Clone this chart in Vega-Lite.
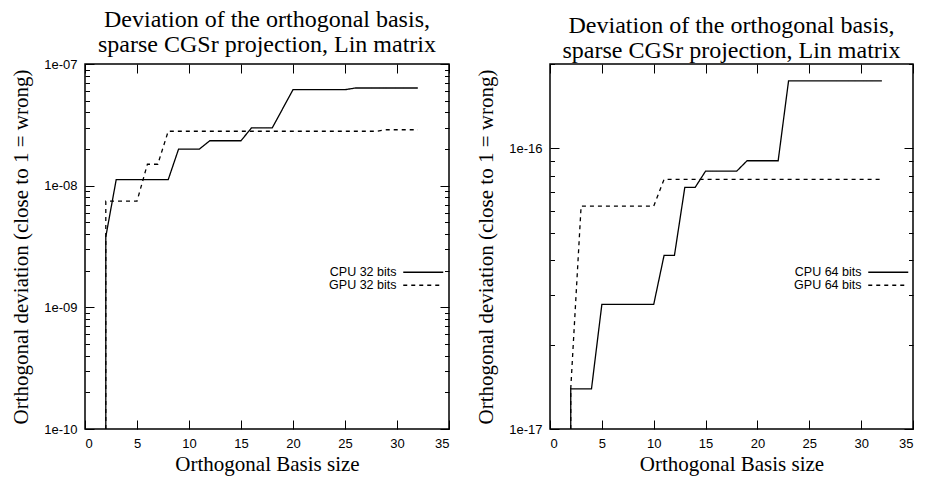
{
  "$schema": "https://vega.github.io/schema/vega-lite/v6.json",
  "background": "white",
  "padding": {"left": 10, "top": 7, "right": 5, "bottom": 3},
  "bounds": "flush",
  "spacing": 101,
  "resolve": {"scale": {"strokeDash": "independent"}, "legend": {"strokeDash": "independent"}},
  "config": {
    "view": {"stroke": "black", "strokeWidth": 1.5},
    "axis": {
      "domain": false,
      "grid": false,
      "tickColor": "black",
      "tickWidth": 1,
      "labelColor": "black",
      "labelFont": "Liberation Sans",
      "labelFontSize": 13,
      "titleFont": "Liberation Serif",
      "titleFontSize": 21,
      "titleFontWeight": "normal",
      "titleColor": "black"
    },
    "title": {"font": "Liberation Serif", "fontSize": 24, "fontWeight": "normal", "color": "black", "lineHeight": 25, "offset": 1},
    "legend": {
      "orient": "none",
      "legendX": 332,
      "legendY": 202,
      "title": null,
      "symbolType": "M-4,0H4",
      "symbolSize": 100,
      "symbolStrokeColor": "black",
      "symbolStrokeWidth": 1.3,
      "labelFont": "Liberation Sans",
      "labelFontSize": 12.5,
      "labelColor": "black",
      "labelAlign": "right",
      "labelOffset": -33,
      "rowPadding": 0,
      "padding": 0
    }
  },
  "hconcat": [
    {
      "width": 364,
      "height": 365,
      "title": {"text": ["Deviation of the orthogonal basis,", "sparse CGSr projection, Lin matrix"]},
      "data": {"values": [
        {"series": "CPU 32 bits", "i": 0, "n": 2, "dev": 1e-10},
        {"series": "CPU 32 bits", "i": 2, "n": 2, "dev": 3.8e-9},
        {"series": "CPU 32 bits", "i": 3, "n": 3, "dev": 1.12e-8},
        {"series": "CPU 32 bits", "i": 4, "n": 4, "dev": 1.12e-8},
        {"series": "CPU 32 bits", "i": 5, "n": 5, "dev": 1.12e-8},
        {"series": "CPU 32 bits", "i": 6, "n": 6, "dev": 1.12e-8},
        {"series": "CPU 32 bits", "i": 7, "n": 7, "dev": 1.12e-8},
        {"series": "CPU 32 bits", "i": 8, "n": 8, "dev": 1.12e-8},
        {"series": "CPU 32 bits", "i": 9, "n": 9, "dev": 2.0e-8},
        {"series": "CPU 32 bits", "i": 10, "n": 10, "dev": 2.0e-8},
        {"series": "CPU 32 bits", "i": 11, "n": 11, "dev": 2.0e-8},
        {"series": "CPU 32 bits", "i": 12, "n": 12, "dev": 2.34e-8},
        {"series": "CPU 32 bits", "i": 13, "n": 13, "dev": 2.34e-8},
        {"series": "CPU 32 bits", "i": 14, "n": 14, "dev": 2.34e-8},
        {"series": "CPU 32 bits", "i": 15, "n": 15, "dev": 2.34e-8},
        {"series": "CPU 32 bits", "i": 16, "n": 16, "dev": 2.98e-8},
        {"series": "CPU 32 bits", "i": 17, "n": 17, "dev": 2.98e-8},
        {"series": "CPU 32 bits", "i": 18, "n": 18, "dev": 2.98e-8},
        {"series": "CPU 32 bits", "i": 20, "n": 20, "dev": 6.15e-8},
        {"series": "CPU 32 bits", "i": 21, "n": 21, "dev": 6.15e-8},
        {"series": "CPU 32 bits", "i": 22, "n": 22, "dev": 6.15e-8},
        {"series": "CPU 32 bits", "i": 23, "n": 23, "dev": 6.15e-8},
        {"series": "CPU 32 bits", "i": 24, "n": 24, "dev": 6.15e-8},
        {"series": "CPU 32 bits", "i": 25, "n": 25, "dev": 6.15e-8},
        {"series": "CPU 32 bits", "i": 26, "n": 26, "dev": 6.35e-8},
        {"series": "CPU 32 bits", "i": 27, "n": 27, "dev": 6.35e-8},
        {"series": "CPU 32 bits", "i": 28, "n": 28, "dev": 6.35e-8},
        {"series": "CPU 32 bits", "i": 29, "n": 29, "dev": 6.35e-8},
        {"series": "CPU 32 bits", "i": 30, "n": 30, "dev": 6.35e-8},
        {"series": "CPU 32 bits", "i": 31, "n": 31, "dev": 6.35e-8},
        {"series": "CPU 32 bits", "i": 32, "n": 32, "dev": 6.35e-8},
        {"series": "GPU 32 bits", "i": 0, "n": 2, "dev": 1e-10},
        {"series": "GPU 32 bits", "i": 2, "n": 2, "dev": 7.45e-9},
        {"series": "GPU 32 bits", "i": 3, "n": 3, "dev": 7.45e-9},
        {"series": "GPU 32 bits", "i": 4, "n": 4, "dev": 7.45e-9},
        {"series": "GPU 32 bits", "i": 5, "n": 5, "dev": 7.45e-9},
        {"series": "GPU 32 bits", "i": 6, "n": 6, "dev": 1.5e-8},
        {"series": "GPU 32 bits", "i": 7, "n": 7, "dev": 1.5e-8},
        {"series": "GPU 32 bits", "i": 8, "n": 8, "dev": 2.8e-8},
        {"series": "GPU 32 bits", "i": 9, "n": 9, "dev": 2.8e-8},
        {"series": "GPU 32 bits", "i": 10, "n": 10, "dev": 2.8e-8},
        {"series": "GPU 32 bits", "i": 11, "n": 11, "dev": 2.8e-8},
        {"series": "GPU 32 bits", "i": 12, "n": 12, "dev": 2.8e-8},
        {"series": "GPU 32 bits", "i": 13, "n": 13, "dev": 2.8e-8},
        {"series": "GPU 32 bits", "i": 14, "n": 14, "dev": 2.8e-8},
        {"series": "GPU 32 bits", "i": 15, "n": 15, "dev": 2.8e-8},
        {"series": "GPU 32 bits", "i": 16, "n": 16, "dev": 2.8e-8},
        {"series": "GPU 32 bits", "i": 17, "n": 17, "dev": 2.8e-8},
        {"series": "GPU 32 bits", "i": 18, "n": 18, "dev": 2.8e-8},
        {"series": "GPU 32 bits", "i": 19, "n": 19, "dev": 2.8e-8},
        {"series": "GPU 32 bits", "i": 20, "n": 20, "dev": 2.8e-8},
        {"series": "GPU 32 bits", "i": 21, "n": 21, "dev": 2.8e-8},
        {"series": "GPU 32 bits", "i": 22, "n": 22, "dev": 2.8e-8},
        {"series": "GPU 32 bits", "i": 23, "n": 23, "dev": 2.8e-8},
        {"series": "GPU 32 bits", "i": 24, "n": 24, "dev": 2.8e-8},
        {"series": "GPU 32 bits", "i": 25, "n": 25, "dev": 2.8e-8},
        {"series": "GPU 32 bits", "i": 26, "n": 26, "dev": 2.8e-8},
        {"series": "GPU 32 bits", "i": 27, "n": 27, "dev": 2.8e-8},
        {"series": "GPU 32 bits", "i": 28, "n": 28, "dev": 2.8e-8},
        {"series": "GPU 32 bits", "i": 29, "n": 29, "dev": 2.88e-8},
        {"series": "GPU 32 bits", "i": 30, "n": 30, "dev": 2.88e-8},
        {"series": "GPU 32 bits", "i": 31, "n": 31, "dev": 2.88e-8},
        {"series": "GPU 32 bits", "i": 32, "n": 32, "dev": 2.88e-8}
      ]},
      "layer": [
        {
          "mark": {"type": "line", "color": "black", "strokeWidth": 1.3, "clip": true},
          "encoding": {
            "x": {"field": "n", "type": "quantitative", "scale": {"domain": [0, 35], "nice": false},
              "axis": {"orient": "bottom", "values": [0, 5, 10, 15, 20, 25, 30, 35], "tickSize": -9, "labelPadding": 17, "title": "Orthogonal Basis size", "titlePadding": 3}},
            "y": {"field": "dev", "type": "quantitative", "scale": {"type": "log", "domain": [1e-10, 1e-7], "nice": false},
              "axis": {"orient": "left",
                "values": [1e-10, 2e-10, 3e-10, 4e-10, 5e-10, 6e-10, 7e-10, 8e-10, 9e-10, 1e-9, 2e-9, 3e-9, 4e-9, 5e-9, 6e-9, 7e-9, 8e-9, 9e-9, 1e-8, 2e-8, 3e-8, 4e-8, 5e-8, 6e-8, 7e-8, 8e-8, 9e-8, 1e-7],
                "tickSize": {"condition": {"test": "abs(log(datum.value)/LN10 - round(log(datum.value)/LN10)) < 0.0001", "value": -9}, "value": -4.5},
                "labelPadding": 17,
                "labelExpr": "abs(log(datum.value)/LN10 - round(log(datum.value)/LN10)) < 0.0001 ? '1e-' + format(-round(log(datum.value)/LN10), '02d') : ''",
                "title": "Orthogonal deviation (close to 1 = wrong)", "titlePadding": 12}},
            "strokeDash": {"field": "series", "type": "nominal",
              "scale": {"domain": ["CPU 32 bits", "GPU 32 bits"], "range": [[1, 0], [4, 4]]}},
            "order": {"field": "i", "type": "quantitative"}
          }
        },
        {
          "mark": {"type": "point", "opacity": 0},
          "encoding": {
            "x": {"field": "n", "type": "quantitative", "scale": {"domain": [0, 35], "nice": false},
              "axis": {"orient": "top", "values": [0, 5, 10, 15, 20, 25, 30, 35], "tickSize": -9, "labels": false, "title": null}},
            "y": {"field": "dev", "type": "quantitative", "scale": {"type": "log", "domain": [1e-10, 1e-7], "nice": false},
              "axis": {"orient": "right",
                "values": [1e-10, 2e-10, 3e-10, 4e-10, 5e-10, 6e-10, 7e-10, 8e-10, 9e-10, 1e-9, 2e-9, 3e-9, 4e-9, 5e-9, 6e-9, 7e-9, 8e-9, 9e-9, 1e-8, 2e-8, 3e-8, 4e-8, 5e-8, 6e-8, 7e-8, 8e-8, 9e-8, 1e-7],
                "tickSize": {"condition": {"test": "abs(log(datum.value)/LN10 - round(log(datum.value)/LN10)) < 0.0001", "value": -9}, "value": -4.5},
                "labels": false, "title": null}}
          }
        }
      ],
      "resolve": {"axis": {"x": "independent", "y": "independent"}}
    },
    {
      "width": 363,
      "height": 365,
      "title": {"text": ["Deviation of the orthogonal basis,", "sparse CGSr projection, Lin matrix"]},
      "data": {"values": [
        {"series": "CPU 64 bits", "i": 0, "n": 2, "dev": 1e-17},
        {"series": "CPU 64 bits", "i": 2, "n": 2, "dev": 1.39e-17},
        {"series": "CPU 64 bits", "i": 3, "n": 3, "dev": 1.39e-17},
        {"series": "CPU 64 bits", "i": 4, "n": 4, "dev": 1.39e-17},
        {"series": "CPU 64 bits", "i": 5, "n": 5, "dev": 2.78e-17},
        {"series": "CPU 64 bits", "i": 6, "n": 6, "dev": 2.78e-17},
        {"series": "CPU 64 bits", "i": 7, "n": 7, "dev": 2.78e-17},
        {"series": "CPU 64 bits", "i": 8, "n": 8, "dev": 2.78e-17},
        {"series": "CPU 64 bits", "i": 9, "n": 9, "dev": 2.78e-17},
        {"series": "CPU 64 bits", "i": 10, "n": 10, "dev": 2.78e-17},
        {"series": "CPU 64 bits", "i": 11, "n": 11, "dev": 4.16e-17},
        {"series": "CPU 64 bits", "i": 12, "n": 12, "dev": 4.16e-17},
        {"series": "CPU 64 bits", "i": 13, "n": 13, "dev": 7.27e-17},
        {"series": "CPU 64 bits", "i": 14, "n": 14, "dev": 7.27e-17},
        {"series": "CPU 64 bits", "i": 15, "n": 15, "dev": 8.3e-17},
        {"series": "CPU 64 bits", "i": 16, "n": 16, "dev": 8.3e-17},
        {"series": "CPU 64 bits", "i": 17, "n": 17, "dev": 8.3e-17},
        {"series": "CPU 64 bits", "i": 18, "n": 18, "dev": 8.3e-17},
        {"series": "CPU 64 bits", "i": 19, "n": 19, "dev": 9.04e-17},
        {"series": "CPU 64 bits", "i": 20, "n": 20, "dev": 9.04e-17},
        {"series": "CPU 64 bits", "i": 21, "n": 21, "dev": 9.04e-17},
        {"series": "CPU 64 bits", "i": 22, "n": 22, "dev": 9.04e-17},
        {"series": "CPU 64 bits", "i": 23, "n": 23, "dev": 1.74e-16},
        {"series": "CPU 64 bits", "i": 24, "n": 24, "dev": 1.74e-16},
        {"series": "CPU 64 bits", "i": 25, "n": 25, "dev": 1.74e-16},
        {"series": "CPU 64 bits", "i": 26, "n": 26, "dev": 1.74e-16},
        {"series": "CPU 64 bits", "i": 27, "n": 27, "dev": 1.74e-16},
        {"series": "CPU 64 bits", "i": 28, "n": 28, "dev": 1.74e-16},
        {"series": "CPU 64 bits", "i": 29, "n": 29, "dev": 1.74e-16},
        {"series": "CPU 64 bits", "i": 30, "n": 30, "dev": 1.74e-16},
        {"series": "CPU 64 bits", "i": 31, "n": 31, "dev": 1.74e-16},
        {"series": "CPU 64 bits", "i": 32, "n": 32, "dev": 1.74e-16},
        {"series": "GPU 64 bits", "i": 0, "n": 2, "dev": 1e-17},
        {"series": "GPU 64 bits", "i": 2, "n": 2, "dev": 1.39e-17},
        {"series": "GPU 64 bits", "i": 3, "n": 3, "dev": 6.23e-17},
        {"series": "GPU 64 bits", "i": 4, "n": 4, "dev": 6.23e-17},
        {"series": "GPU 64 bits", "i": 5, "n": 5, "dev": 6.23e-17},
        {"series": "GPU 64 bits", "i": 6, "n": 6, "dev": 6.23e-17},
        {"series": "GPU 64 bits", "i": 7, "n": 7, "dev": 6.23e-17},
        {"series": "GPU 64 bits", "i": 8, "n": 8, "dev": 6.23e-17},
        {"series": "GPU 64 bits", "i": 9, "n": 9, "dev": 6.23e-17},
        {"series": "GPU 64 bits", "i": 10, "n": 10, "dev": 6.23e-17},
        {"series": "GPU 64 bits", "i": 11, "n": 11, "dev": 7.76e-17},
        {"series": "GPU 64 bits", "i": 12, "n": 12, "dev": 7.76e-17},
        {"series": "GPU 64 bits", "i": 13, "n": 13, "dev": 7.76e-17},
        {"series": "GPU 64 bits", "i": 14, "n": 14, "dev": 7.76e-17},
        {"series": "GPU 64 bits", "i": 15, "n": 15, "dev": 7.76e-17},
        {"series": "GPU 64 bits", "i": 16, "n": 16, "dev": 7.76e-17},
        {"series": "GPU 64 bits", "i": 17, "n": 17, "dev": 7.76e-17},
        {"series": "GPU 64 bits", "i": 18, "n": 18, "dev": 7.76e-17},
        {"series": "GPU 64 bits", "i": 19, "n": 19, "dev": 7.76e-17},
        {"series": "GPU 64 bits", "i": 20, "n": 20, "dev": 7.76e-17},
        {"series": "GPU 64 bits", "i": 21, "n": 21, "dev": 7.76e-17},
        {"series": "GPU 64 bits", "i": 22, "n": 22, "dev": 7.76e-17},
        {"series": "GPU 64 bits", "i": 23, "n": 23, "dev": 7.76e-17},
        {"series": "GPU 64 bits", "i": 24, "n": 24, "dev": 7.76e-17},
        {"series": "GPU 64 bits", "i": 25, "n": 25, "dev": 7.76e-17},
        {"series": "GPU 64 bits", "i": 26, "n": 26, "dev": 7.76e-17},
        {"series": "GPU 64 bits", "i": 27, "n": 27, "dev": 7.76e-17},
        {"series": "GPU 64 bits", "i": 28, "n": 28, "dev": 7.76e-17},
        {"series": "GPU 64 bits", "i": 29, "n": 29, "dev": 7.76e-17},
        {"series": "GPU 64 bits", "i": 30, "n": 30, "dev": 7.76e-17},
        {"series": "GPU 64 bits", "i": 31, "n": 31, "dev": 7.76e-17},
        {"series": "GPU 64 bits", "i": 32, "n": 32, "dev": 7.76e-17}
      ]},
      "layer": [
        {
          "mark": {"type": "line", "color": "black", "strokeWidth": 1.3, "clip": true},
          "encoding": {
            "x": {"field": "n", "type": "quantitative", "scale": {"domain": [0, 35], "nice": false},
              "axis": {"orient": "bottom", "values": [0, 5, 10, 15, 20, 25, 30, 35], "tickSize": -9, "labelPadding": 17, "title": "Orthogonal Basis size", "titlePadding": 3}},
            "y": {"field": "dev", "type": "quantitative", "scale": {"type": "log", "domain": [1e-17, 2e-16], "nice": false},
              "axis": {"orient": "left",
                "values": [1e-17, 2e-17, 3e-17, 4e-17, 5e-17, 6e-17, 7e-17, 8e-17, 9e-17, 1e-16, 2e-16],
                "tickSize": {"condition": {"test": "abs(log(datum.value)/LN10 - round(log(datum.value)/LN10)) < 0.0001", "value": -9}, "value": -4.5},
                "labelPadding": 17,
                "labelExpr": "abs(log(datum.value)/LN10 - round(log(datum.value)/LN10)) < 0.0001 ? '1e-' + format(-round(log(datum.value)/LN10), '02d') : ''",
                "title": "Orthogonal deviation (close to 1 = wrong)", "titlePadding": 12}},
            "strokeDash": {"field": "series", "type": "nominal",
              "scale": {"domain": ["CPU 64 bits", "GPU 64 bits"], "range": [[1, 0], [4, 4]]}},
            "order": {"field": "i", "type": "quantitative"}
          }
        },
        {
          "mark": {"type": "point", "opacity": 0},
          "encoding": {
            "x": {"field": "n", "type": "quantitative", "scale": {"domain": [0, 35], "nice": false},
              "axis": {"orient": "top", "values": [0, 5, 10, 15, 20, 25, 30, 35], "tickSize": -9, "labels": false, "title": null}},
            "y": {"field": "dev", "type": "quantitative", "scale": {"type": "log", "domain": [1e-17, 2e-16], "nice": false},
              "axis": {"orient": "right",
                "values": [1e-17, 2e-17, 3e-17, 4e-17, 5e-17, 6e-17, 7e-17, 8e-17, 9e-17, 1e-16, 2e-16],
                "tickSize": {"condition": {"test": "abs(log(datum.value)/LN10 - round(log(datum.value)/LN10)) < 0.0001", "value": -9}, "value": -4.5},
                "labels": false, "title": null}}
          }
        }
      ],
      "resolve": {"axis": {"x": "independent", "y": "independent"}}
    }
  ]
}
